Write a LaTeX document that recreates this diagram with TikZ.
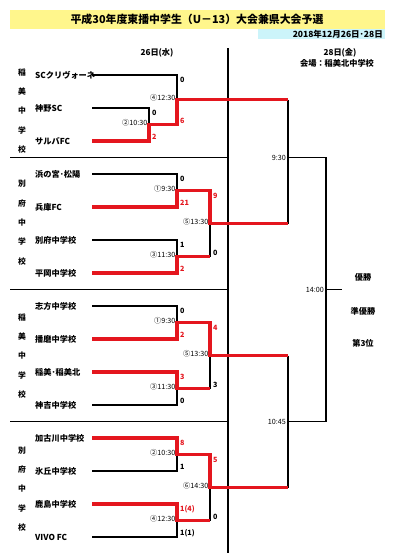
\documentclass[tikz,border=0pt]{standalone}
\usepackage{fontspec}
\setmainfont{Noto Sans CJK JP}
\definecolor{myred}{RGB}{228,22,30}
\definecolor{ttlyellow}{RGB}{255,246,140}
\definecolor{datecyan}{RGB}{204,244,250}
\begin{document}
\begin{tikzpicture}[x=1pt,y=-1pt,
  team/.style={anchor=west,inner sep=0,font=\fontsize{8.2}{8.2}\selectfont\bfseries},
  side/.style={inner sep=0,font=\fontsize{7.8}{7.8}\selectfont\bfseries},
  sc/.style={anchor=west,inner sep=0,font=\fontsize{7.2}{7.2}\selectfont\bfseries},
  scr/.style={sc,text=myred},
  tm/.style={anchor=east,inner sep=0,font=\fontsize{7.2}{7.2}\selectfont},
  hd/.style={inner sep=0,font=\fontsize{8.2}{8.2}\selectfont\bfseries},
  bl/.style={line width=1.8pt,black},
  rd/.style={line width=3.4pt,myred,line join=miter},
  sepline/.style={line width=1.8pt,black}]
\useasboundingbox (0,0) rectangle (407,560);
% title
\fill[ttlyellow] (10,10) rectangle (385,29);
\fill[datecyan] (258,29) rectangle (385,39);
\node[inner sep=0,font=\fontsize{10.9}{10.9}\selectfont\bfseries] (title) at (197,19.5) {平成30年度東播中学生（U－13）大会兼県大会予選};
\node[anchor=east,inner sep=0,font=\fontsize{8.5}{8.5}\selectfont\bfseries] (date) at (383,34) {2018年12月26日･28日};
\node[hd] (day1) at (157,53) {26日(水)};
\node[hd] (day2) at (340,53) {28日(金)};
\node[hd] (venue) at (337,63.5) {会場：稲美北中学校};
% divider and separators
\coordinate (dvt) at (228,48);
\coordinate (dvb) at (228,553);
\draw[line width=1.1pt] (dvt) -- (dvb);
\foreach \y [count=\i] in {157.5,289.5,421.5}{
  \coordinate (sl\i) at (10,\y);
  \coordinate (sr\i) at (228,\y);
  \draw[sepline] (sl\i) -- (sr\i);
}
% side labels
\foreach \c [count=\i] in {稲,美,中,学,校}{
  \node[side] (sa\i) at (22,{111+(\i-3)*19.3}) {\c};
  \node[side] (sc\i) at (22,{356+(\i-3)*19.3}) {\c};
}
\foreach \c [count=\i] in {別,府,中,学,校}{
  \node[side] (sb\i) at (22,{222.5+(\i-3)*19.3}) {\c};
  \node[side] (sd\i) at (22,{489+(\i-3)*19.3}) {\c};
}
% teams
\foreach \t [count=\k from 0] in {SCクリヴォーネ,神野SC,サルバFC,浜の宮･松陽,兵庫FC,別府中学校,平岡中学校,志方中学校,播磨中学校,稲美･稲美北,神吉中学校,加古川中学校,氷丘中学校,鹿島中学校,VIVO FC}{
  \node[team] (t\k) at (35,{75+33*\k}) {\t};
  \coordinate (e\k) at (92,{75+33*\k});
}
% junctions
\coordinate (a2) at (149,124.5);
\coordinate (a4) at (177,99.75);
\coordinate (b1) at (177,190.5);
\coordinate (b3) at (177,256.5);
\coordinate (b5) at (210,223.5);
\coordinate (b3r) at (210,256.5);
\coordinate (c1) at (177,322.5);
\coordinate (c3) at (177,388.5);
\coordinate (c5) at (210,355.5);
\coordinate (c3r) at (210,388.5);
\coordinate (d2) at (177,454.5);
\coordinate (d4) at (177,520.5);
\coordinate (d6) at (210,487.5);
\coordinate (d4r) at (210,520.5);
\coordinate (f1) at (288,99.75);
\coordinate (f2) at (288,223.5);
\coordinate (f3) at (288,355.5);
\coordinate (f4) at (288,487.5);
\coordinate (s1) at (288,157.5);
\coordinate (s2) at (288,421.5);
\coordinate (q1) at (326,157.5);
\coordinate (q2) at (326,421.5);
\coordinate (fin) at (326,289.5);
\coordinate (champ) at (342,289.5);
% black lines
\draw[bl] (e0) -| (a4);
\draw[bl] (e1) -| (a2);
\draw[bl] (e3) -| (b1);
\draw[bl] (e5) -| (b3);
\draw[bl] (b3r) -- (b5);
\draw[bl] (e7) -| (c1);
\draw[bl] (e10) -| (c3);
\draw[bl] (c3r) -- (c5);
\draw[bl] (e12) -| (d2);
\draw[bl] (e14) -| (d4);
\draw[bl] (d4r) -- (d6);
\draw[bl] (f1) -- (f2);
\draw[bl] (f3) -- (f4);
\draw[bl] (s1) -- (q1) -- (q2) -- (s2);
\draw[bl] (fin) -- (champ);
% red lines
\draw[rd] (e2) -| (a2) -| (a4) -- (f1);
\draw[rd] (e4) -| (b1) -| (b5) -- (f2);
\draw[rd] (e6) -| (b3) -- (b3r);
\draw[rd] (e8) -| (c1) -| (c5) -- (f3);
\draw[rd] (e9) -| (c3) -- (c3r);
\draw[rd] (e11) -| (d2) -| (d6) -- (f4);
\draw[rd] (e13) -| (d4) -- (d4r);
% group 1 labels
\node[sc] (g1s1) at (180,80) {0};
\node[scr] (g1s2) at (180,121) {6};
\node[sc] (g1s3) at (152,113) {0};
\node[scr] (g1s4) at (152,137) {2};
\node[tm] (g1t1) at (175.5,97.5) {④12:30};
\node[tm] (g1t2) at (147.5,122.5) {②10:30};
% group 2 labels
\node[sc] (g2s1) at (180,179) {0};
\node[scr] (g2s2) at (180,203) {21};
\node[tm] (g2t1) at (175.5,189) {①9:30};
\node[sc] (g2s3) at (180,245) {1};
\node[scr] (g2s4) at (180,269) {2};
\node[tm] (g2t2) at (175.5,255) {③11:30};
\node[scr] (g2s5) at (213,195.5) {9};
\node[sc] (g2s6) at (213,252.5) {0};
\node[tm] (g2t3) at (208.5,222) {⑤13:30};
% group 3 labels
\node[sc] (g3s1) at (180,311) {0};
\node[scr] (g3s2) at (180,335) {2};
\node[tm] (g3t1) at (175.5,321) {①9:30};
\node[scr] (g3s3) at (180,377) {3};
\node[sc] (g3s4) at (180,401) {0};
\node[tm] (g3t2) at (175.5,387) {③11:30};
\node[scr] (g3s5) at (213,327.5) {4};
\node[sc] (g3s6) at (213,384.5) {3};
\node[tm] (g3t3) at (208.5,354) {⑤13:30};
% group 4 labels
\node[scr] (g4s1) at (180,443) {8};
\node[sc] (g4s2) at (180,467) {1};
\node[tm] (g4t1) at (175.5,453) {②10:30};
\node[scr] (g4s3) at (180,509) {1(4)};
\node[sc] (g4s4) at (180,533) {1(1)};
\node[tm] (g4t2) at (175.5,519) {④12:30};
\node[scr] (g4s5) at (213,459.5) {5};
\node[sc] (g4s6) at (213,516.5) {0};
\node[tm] (g4t3) at (208.5,486) {⑥14:30};
% final rounds
\node[tm] (r1t) at (286,157.5) {9:30};
\node[tm] (r2t) at (286,421.5) {10:45};
\node[tm] (r3t) at (324,289.5) {14:00};
\node[hd] (p1) at (363,277) {優勝};
\node[hd] (p2) at (363,311) {準優勝};
\node[hd] (p3) at (363,343) {第3位};
\end{tikzpicture}
\end{document}
